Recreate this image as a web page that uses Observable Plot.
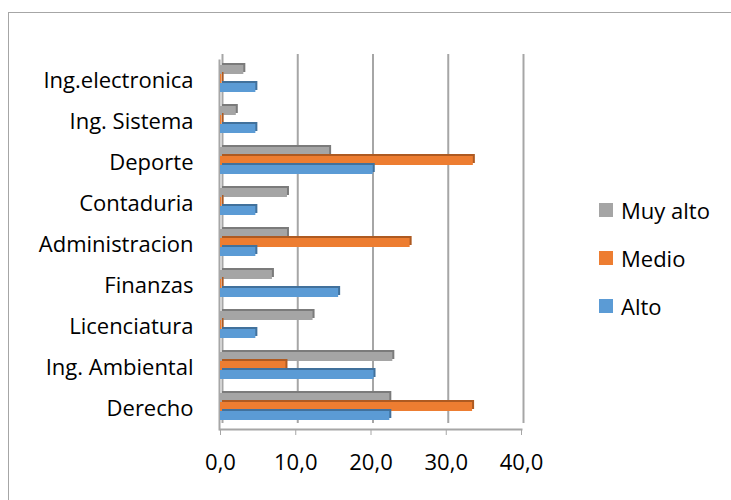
<!DOCTYPE html>
<html><head><meta charset="utf-8">
<script src="https://cdn.jsdelivr.net/npm/d3@7"></script>
<script src="https://cdn.jsdelivr.net/npm/@observablehq/plot@0.6"></script>
<style>
html,body{margin:0;padding:0;background:#fff;overflow:hidden;width:731px;height:500px;}
#wrap{position:relative;width:731px;height:500px;overflow:hidden;}
#border{position:absolute;left:8px;top:12px;width:780px;height:580px;border:1px solid #a6a6a6;}
#chart{position:absolute;left:0;top:0;}
#legend{position:absolute;left:599px;top:186px;font-family:"Open Sans",sans-serif;font-size:22px;color:#000;}
.item{height:48px;display:flex;align-items:center;}
.sw{width:14px;height:14px;margin-right:8px;}
</style></head>
<body><div id="wrap"><div id="border"></div><div id="chart"></div><div id="legend"></div></div>
<script>
const categories = ["Derecho","Ing. Ambiental","Licenciatura","Finanzas","Administracion","Contaduria","Deporte","Ing. Sistema","Ing.electronica"];
const series = ["Alto","Medio","Muy alto"];
const alto    = [22.5, 20.4, 4.7, 15.7, 4.7, 4.7, 20.3, 4.7, 4.7];
const medio   = [33.5, 8.7, 0.2, 0.2, 25.2, 0.2, 33.6, 0.2, 0.2];
const muyAlto = [22.5, 22.9, 12.3, 6.9, 8.9, 8.9, 14.5, 2.1, 3.1];
const colors = ["#5b9bd5","#ed7d31","#a5a5a5"];
const sideColors = ["#41719c","#ae5a21","#7b7b7b"];
const xTicks = [0,10,20,30,40];
const legendOrder = ["Muy alto","Medio","Alto"];

const values = [alto, medio, muyAlto];
const data = categories.flatMap((c,i)=> series.map((s,j)=>({category:c, series:s, value: values[j][i]})));

const barMarks = [];
for (const s of ["Muy alto","Medio","Alto"]) {
  const j = series.indexOf(s);
  const d = data.filter(r => r.series === s);
  barMarks.push(Plot.barX(d,{fy:"category", y:"series", x:"value", fill: sideColors[j], dx:2, dy:-4}));
  barMarks.push(Plot.barX(d,{fy:"category", y:"series", x:"value", fill: colors[j], dy:-2}));
}

const plot = Plot.plot({
  width:731, height:500, marginLeft:220, marginRight:210, marginTop:59, marginBottom:71,
  style:{fontFamily:"'Open Sans', sans-serif", fontSize:"22px", color:"#000", background:"transparent"},
  x:{domain:[0,40]},
  y:{domain:["Muy alto","Medio","Alto"], paddingInner:0, paddingOuter:0.7, axis:null},
  fy:{domain:categories.slice().reverse(), padding:0, label:null},
  marks:[
    Plot.gridX(xTicks,{stroke:"#a6a6a6", strokeOpacity:1, strokeWidth:2, dx:2, dy:-6}),
    Plot.frame({anchor:"left", facet:"super", stroke:"#a6a6a6", strokeWidth:2, dx:-1}),
    Plot.frame({anchor:"bottom", facet:"super", stroke:"#a6a6a6", strokeWidth:2}),
    ...barMarks,
    Plot.axisX(xTicks,{tickFormat: d => d.toFixed(1).replace(".", ","), tickSize:6, tickPadding:19, stroke:"#a6a6a6", fill:"#000", label:null}),
    Plot.axisFy({anchor:"left", tickSize:0, tickPadding:27, dy:0, label:null, fill:"#000"})
  ]
});
document.getElementById("chart").appendChild(plot);

const lg = document.getElementById("legend");
for (const s of legendOrder) {
  const j = series.indexOf(s);
  const it = document.createElement("div"); it.className = "item";
  const sw = document.createElement("div"); sw.className = "sw"; sw.style.background = colors[j];
  const tx = document.createElement("span"); tx.textContent = s;
  it.appendChild(sw); it.appendChild(tx); lg.appendChild(it);
}
</script></body></html>
